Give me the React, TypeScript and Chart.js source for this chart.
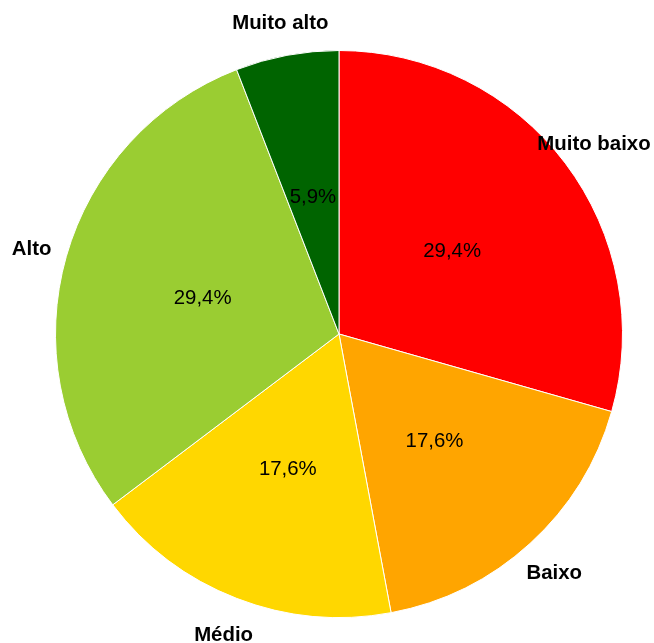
import React, { useEffect, useRef } from "react";
import { Chart, registerables } from "chart.js";

Chart.register(...registerables);

const categories = ["Muito baixo", "Baixo", "Médio", "Alto", "Muito alto"];
const counts = [5, 3, 3, 5, 1];
const percentLabels = ["29,4%", "17,6%", "17,6%", "29,4%", "5,9%"];
const colors = ["#FF0000", "#FFA500", "#FFD700", "#9ACD32", "#006400"];

const labelPlugin = {
  id: "pieLabels",
  afterDatasetsDraw(chart: any) {
    const ctx = chart.ctx;
    const meta = chart.getDatasetMeta(0);
    ctx.save();
    ctx.textAlign = "center";
    ctx.textBaseline = "middle";
    ctx.fillStyle = "#000000";
    meta.data.forEach((arc: any, i: number) => {
      const mid = (arc.startAngle + arc.endAngle) / 2;
      const r = arc.outerRadius;
      ctx.font = "20.4px 'Liberation Sans', Arial, sans-serif";
      ctx.fillText(percentLabels[i], arc.x + Math.cos(mid) * r * 0.5, arc.y + Math.sin(mid) * r * 0.5 + 3);
      ctx.font = "bold 20.4px 'Liberation Sans', Arial, sans-serif";
      ctx.fillText(categories[i], arc.x + Math.cos(mid) * r * 1.127, arc.y + Math.sin(mid) * r * 1.127 + 3);
    });
    ctx.restore();
  },
};

export default function App() {
  const ref = useRef<HTMLCanvasElement>(null);
  useEffect(() => {
    document.body.style.margin = "0";
    const chart = new Chart(ref.current!, {
      type: "pie",
      data: {
        labels: categories,
        datasets: [
          {
            data: counts,
            backgroundColor: colors,
            borderColor: "#ffffff",
            borderWidth: 1,
          },
        ],
      },
      options: {
        responsive: false,
        animation: false,
        layout: { padding: { top: 50, bottom: 25, left: 55, right: 31 } },
        plugins: { legend: { display: false }, tooltip: { enabled: false } },
      },
      plugins: [labelPlugin],
    });
    return () => chart.destroy();
  }, []);
  return (
    <div style={{ width: 654, height: 643, background: "#fff" }}>
      <canvas ref={ref} width={654} height={643} style={{ display: "block" }} />
    </div>
  );
}
